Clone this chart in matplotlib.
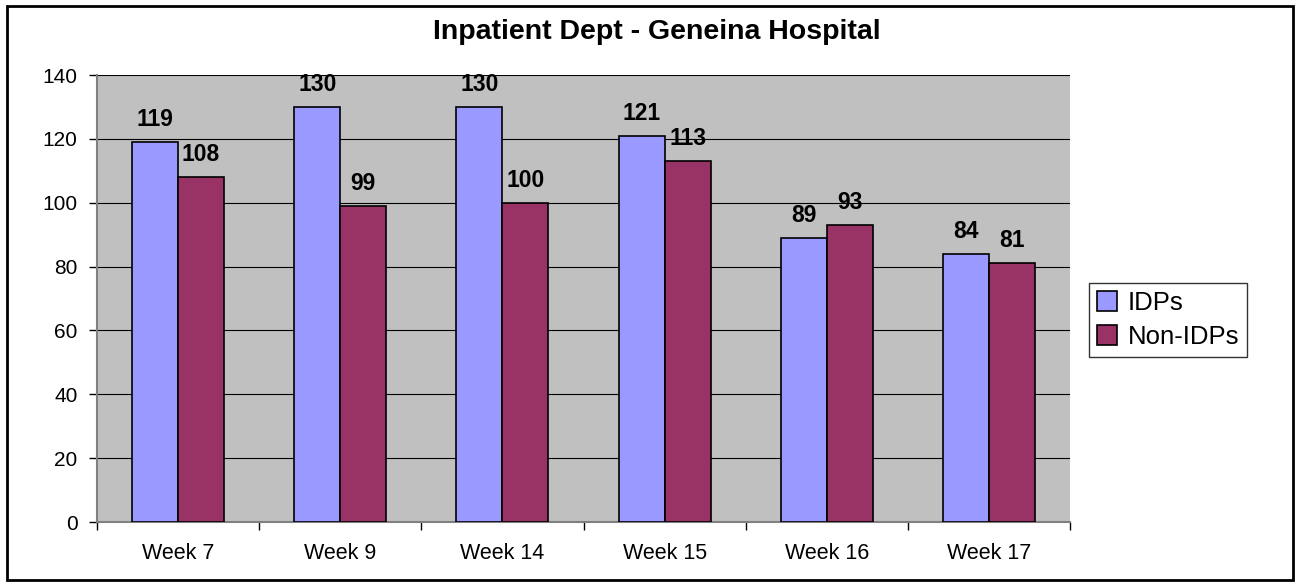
import matplotlib.pyplot as plt
import numpy as np
from matplotlib.patches import Rectangle

plt.rcParams['font.family'] = ['Liberation Sans', 'DejaVu Sans']

# data
weeks = ["Week 7", "Week 9", "Week 14", "Week 15", "Week 16", "Week 17"]
idps = [119, 130, 130, 121, 89, 84]
non_idps = [108, 99, 100, 113, 93, 81]

fig = plt.figure(figsize=(12.99, 5.86), dpi=100)
W, H = 1299, 586
ax = fig.add_axes([97 / W, 1 - 522 / H, (1070 - 97) / W, (522 - 75) / H])

# outer border of chart area
fig.patches.append(Rectangle((7 / W, 6 / H), (1293 - 7) / W, (580 - 6) / H,
                             transform=fig.transFigure, fill=False,
                             edgecolor='black', linewidth=2))

x = np.arange(len(weeks))
bw = 0.284
b1 = ax.bar(x - bw / 2, idps, bw, color='#9999FF', edgecolor='black',
            linewidth=1.2, label='IDPs', zorder=3)
b2 = ax.bar(x + bw / 2, non_idps, bw, color='#993366', edgecolor='black',
            linewidth=1.2, label='Non-IDPs', zorder=3)

for bars, vals in [(b1, idps), (b2, non_idps)]:
    for r, v in zip(bars, vals):
        ax.annotate(str(v), (r.get_x() + r.get_width() / 2, v),
                    xytext=(0, 8), textcoords='offset points',
                    ha='center', va='bottom', fontsize=16.5, fontweight='bold',
                    zorder=4)

ax.set_facecolor('#C0C0C0')
ax.set_xlim(-0.5, len(weeks) - 0.5)
ax.set_ylim(0, 140)
ax.set_yticks(range(0, 141, 20))
ax.yaxis.grid(True, color='black', linewidth=0.8, zorder=0)
ax.set_axisbelow(True)
ax.tick_params(axis='y', direction='out', length=6, labelsize=15, width=1,
               pad=8)
ax.set_xticks(x)
ax.set_xticklabels(weeks, fontsize=15.5)
ax.tick_params(axis='x', length=0, pad=15)
ax.set_xticks(np.arange(-0.5, len(weeks)), minor=True)
ax.tick_params(axis='x', which='minor', direction='out', length=6, width=1)

for s in ['top', 'right']:
    ax.spines[s].set_visible(False)
ax.spines['left'].set_color('#808080')
ax.spines['left'].set_linewidth(1.5)
ax.spines['bottom'].set_color('#808080')
ax.spines['bottom'].set_linewidth(1.5)

fig.text(657 / W, 1 - 32 / H, "Inpatient Dept - Geneina Hospital",
         ha='center', va='center', fontsize=20.5, fontweight='bold')

fig.legend(handles=[b1, b2], labels=['IDPs', 'Non-IDPs'],
           loc='center left', bbox_to_anchor=(1089 / W, 1 - 320 / H),
           fontsize=18.5, frameon=True, fancybox=False, edgecolor='black',
           handlelength=0.8, handleheight=0.8, handletextpad=0.4,
           borderpad=0.3, labelspacing=0.4, borderaxespad=0)

fig.savefig('out.png', dpi=100)
